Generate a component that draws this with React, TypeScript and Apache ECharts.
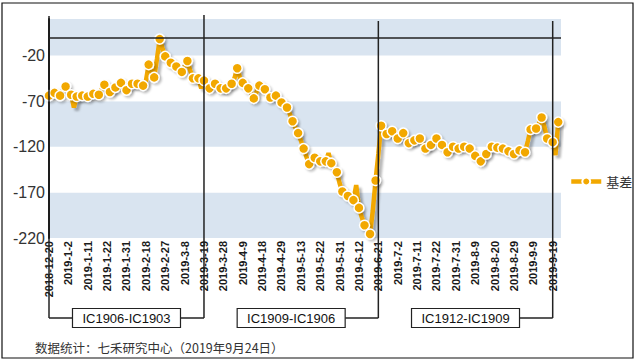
import React, { useEffect, useRef } from 'react';
import * as echarts from 'echarts';

// Trading days (category axis)
const categories: string[] = [
  '2018-12-20','2018-12-21','2018-12-24','2018-12-25','2018-12-26','2018-12-27','2018-12-28',
  '2019-1-2','2019-1-3','2019-1-4','2019-1-7','2019-1-8','2019-1-9','2019-1-10','2019-1-11',
  '2019-1-14','2019-1-15','2019-1-16','2019-1-17','2019-1-18','2019-1-21','2019-1-22','2019-1-23',
  '2019-1-24','2019-1-25','2019-1-28','2019-1-29','2019-1-30','2019-1-31','2019-2-1',
  '2019-2-11','2019-2-12','2019-2-13','2019-2-14','2019-2-15','2019-2-18','2019-2-19','2019-2-20',
  '2019-2-21','2019-2-22','2019-2-25','2019-2-26','2019-2-27','2019-2-28','2019-3-1',
  '2019-3-4','2019-3-5','2019-3-6','2019-3-7','2019-3-8','2019-3-11','2019-3-12','2019-3-13',
  '2019-3-14','2019-3-15','2019-3-18','2019-3-19','2019-3-20','2019-3-21','2019-3-22',
  '2019-3-25','2019-3-26','2019-3-27','2019-3-28','2019-3-29','2019-4-1','2019-4-2','2019-4-3',
  '2019-4-4','2019-4-8','2019-4-9','2019-4-10','2019-4-11','2019-4-12','2019-4-15','2019-4-16',
  '2019-4-17','2019-4-18','2019-4-19','2019-4-22','2019-4-23','2019-4-24','2019-4-25','2019-4-26',
  '2019-4-29','2019-4-30','2019-5-6','2019-5-7','2019-5-8','2019-5-9','2019-5-10',
  '2019-5-13','2019-5-14','2019-5-15','2019-5-16','2019-5-17','2019-5-20','2019-5-21','2019-5-22',
  '2019-5-23','2019-5-24','2019-5-27','2019-5-28','2019-5-29','2019-5-30','2019-5-31',
  '2019-6-3','2019-6-4','2019-6-5','2019-6-6','2019-6-10','2019-6-11','2019-6-12','2019-6-13',
  '2019-6-14','2019-6-17','2019-6-18','2019-6-19','2019-6-20','2019-6-21','2019-6-24','2019-6-25',
  '2019-6-26','2019-6-27','2019-6-28','2019-7-1','2019-7-2','2019-7-3','2019-7-4','2019-7-5',
  '2019-7-8','2019-7-9','2019-7-10','2019-7-11','2019-7-12','2019-7-15','2019-7-16','2019-7-17',
  '2019-7-18','2019-7-19','2019-7-22','2019-7-23','2019-7-24','2019-7-25','2019-7-26',
  '2019-7-29','2019-7-30','2019-7-31','2019-8-1','2019-8-2','2019-8-5','2019-8-6','2019-8-7',
  '2019-8-8','2019-8-9','2019-8-12','2019-8-13','2019-8-14','2019-8-15','2019-8-16',
  '2019-8-19','2019-8-20','2019-8-21','2019-8-22','2019-8-23','2019-8-26','2019-8-27','2019-8-28',
  '2019-8-29','2019-8-30','2019-9-2','2019-9-3','2019-9-4','2019-9-5','2019-9-6',
  '2019-9-9','2019-9-10','2019-9-11','2019-9-12','2019-9-16','2019-9-17','2019-9-18','2019-9-19',
  '2019-9-20','2019-9-23','2019-9-24',
];

// Basis values per contract period
const basisIC1906: number[] = [
  -64, -62, -61, -63, -64, -58, -54, -59, -63, -77,
  -65, -66, -64, -63, -65, -63, -62, -64, -63, -57,
  -52, -57, -60, -58, -55, -54, -50, -55, -58, -53,
  -51, -52, -51, -52, -53, -48, -30, -37, -44, -24,
  -2, -12, -21, -25, -28, -30, -32, -35, -38, -32,
  -26, -36, -45, -46, -45, -56,
];
const basisIC1909: number[] = [
  -47.5, -52, -56, -54, -51, -53, -56, -58, -56, -53,
  -51, -45, -34, -44, -50, -52, -56, -61, -67, -60,
  -53, -55, -57, -60, -66, -65, -64, -68, -71.5, -74,
  -77, -84, -92, -99, -105, -113, -122, -131, -139, -135,
  -132, -133, -136, -134, -136, -127, -138, -143, -148, -160,
  -169, -172, -174, -176, -178.5, -162, -187, -197, -206, -211,
  -215.6, -190, -157,
];
const basisIC1912: number[] = [
  -128, -97, -101, -106, -105, -103, -108, -111, -109, -105,
  -110, -116, -115, -113, -112, -111, -117, -122, -120, -118,
  -115, -111, -114, -118, -122, -126, -123, -120, -121, -122,
  -120, -120, -120, -122, -126, -130, -134, -136, -132, -128,
  -124, -120, -120, -121, -121, -122, -123, -125, -127, -128,
  -126, -124, -125, -126, -114, -101, -100, -100, -95, -88,
  -98, -111, -113, -115, -129, -93, -95,
];

const contractLabels = ['IC1906-IC1903', 'IC1909-IC1906', 'IC1912-IC1909'];
const contractEnds = ['2019-3-19', '2019-6-21', '2019-9-19'];

const yTicks = { min: -220, max: 20, interval: 50 };

const ORANGE = '#F2A800';
const BLUE = '#D9E4F0';
const FONT = '"Liberation Sans", Arial, sans-serif';

export default function App() {
  const ref = useRef<HTMLDivElement>(null);
  useEffect(() => {
    const chart = echarts.init(ref.current!, null, { renderer: 'svg' });
    const basis = [...basisIC1906, ...basisIC1909, ...basisIC1912];
    const seriesData = basis.map((v, i) => (i % 2 === 0 ? v : { value: v, symbol: 'none' }));
    chart.setOption({
      animation: false,
      grid: { left: 49, right: 77, top: 19, bottom: 125, containLabel: false },
      legend: {
        orient: 'vertical',
        left: 564,
        top: 'middle',
        itemWidth: 30,
        itemHeight: 10,
        lineStyle: { width: 4.5 },
        textStyle: { fontSize: 13, color: '#333', fontFamily: '"Noto Sans CJK SC", sans-serif' },
        data: ['基差'],
      },
      xAxis: {
        type: 'category',
        data: categories,
        boundaryGap: false,
        axisLine: { show: false },
        axisTick: { show: false },
        axisLabel: {
          interval: 6,
          rotate: 90,
          margin: 3,
          fontSize: 11,
          fontWeight: 'bold',
          color: '#1a1a1a',
          fontFamily: FONT,
        },
        splitLine: { show: false },
      },
      yAxis: {
        type: 'value',
        min: yTicks.min,
        max: yTicks.max,
        interval: yTicks.interval,
        axisLine: { show: true, lineStyle: { color: '#111', width: 2 } },
        axisTick: { show: false },
        axisLabel: {
          showMaxLabel: false,
          fontSize: 16,
          color: '#333',
          margin: 4,
          fontFamily: FONT,
        },
        splitLine: { show: false },
        splitArea: { show: true, areaStyle: { color: [BLUE, '#FFFFFF'] } },
      },
      series: [
        {
          name: '基差',
          type: 'line',
          data: seriesData,
          showSymbol: true,
          showAllSymbol: true,
          symbol: 'circle',
          symbolSize: 10,
          color: ORANGE,
          lineStyle: {
            color: ORANGE,
            width: 4.5,
            shadowColor: 'rgba(0,0,0,0.28)',
            shadowBlur: 2,
            shadowOffsetX: 3,
            shadowOffsetY: 3,
          },
          itemStyle: {
            color: ORANGE,
            borderColor: '#FFFFFF',
            borderWidth: 1.5,
            shadowColor: 'rgba(0,0,0,0.22)',
            shadowBlur: 2,
            shadowOffsetX: 2,
            shadowOffsetY: 2,
          },
          markLine: {
            silent: true,
            symbol: 'none',
            label: { show: false },
            lineStyle: { color: '#222', width: 1.5, type: 'solid', shadowBlur: 0, shadowColor: 'transparent' },
            data: [{ yAxis: 0 }],
          },
          z: 3,
        },
      ],
    });

    const px = (c: string) => chart.convertToPixel({ xAxisIndex: 0 }, c) as number;
    const x0 = px(categories[0]);
    const ends = contractEnds.map(px);
    const starts = [x0, ends[0], ends[1]];
    const lineY = 318;
    const boxW = 108;
    const boxH = 19;
    const lineStyle = { stroke: '#222', lineWidth: 1.5 };
    const els: any[] = [];
    els.push({
      type: 'rect', shape: { x: 2, y: 3, width: 631, height: 355 },
      style: { fill: 'none', stroke: '#111', lineWidth: 1.2 }, z: 100, silent: true,
    });
    const tops = [16, 15, 21, 21];
    [x0, ...ends].forEach((x, i) => {
      els.push({ type: 'line', shape: { x1: x, y1: tops[i], x2: x, y2: lineY }, style: lineStyle, z: 100, silent: true });
    });
    contractLabels.forEach((lab, i) => {
      const cx = (starts[i] + ends[i]) / 2;
      const bx = cx - boxW / 2;
      if (i === 0) {
        els.push({ type: 'line', shape: { x1: starts[i], y1: lineY, x2: bx, y2: lineY }, style: lineStyle, z: 100, silent: true });
      }
      els.push({ type: 'line', shape: { x1: bx + boxW, y1: lineY, x2: ends[i], y2: lineY }, style: lineStyle, z: 100, silent: true });
      els.push({
        type: 'rect', shape: { x: bx, y: lineY - boxH / 2, width: boxW, height: boxH },
        style: { fill: '#fff', stroke: '#222', lineWidth: 1.2 }, z: 100, silent: true,
      });
      els.push({
        type: 'text', x: cx, y: lineY, z: 101, silent: true,
        style: { text: lab, fill: '#111', fontSize: 13, fontFamily: FONT, align: 'center', verticalAlign: 'middle' },
      });
    });
    els.push({
      type: 'text', x: 35, y: 347, z: 101, silent: true,
      style: {
        text: '数据统计：七禾研究中心（2019年9月24日）', fill: '#333', fontSize: 12.5,
        fontFamily: '"Noto Sans CJK SC", sans-serif', align: 'left', verticalAlign: 'middle',
      },
    });
    chart.setOption({ graphic: els });
    return () => chart.dispose();
  }, []);
  return <div ref={ref} style={{ position: 'absolute', left: 0, top: 0, width: 638, height: 363 }} />;
}
